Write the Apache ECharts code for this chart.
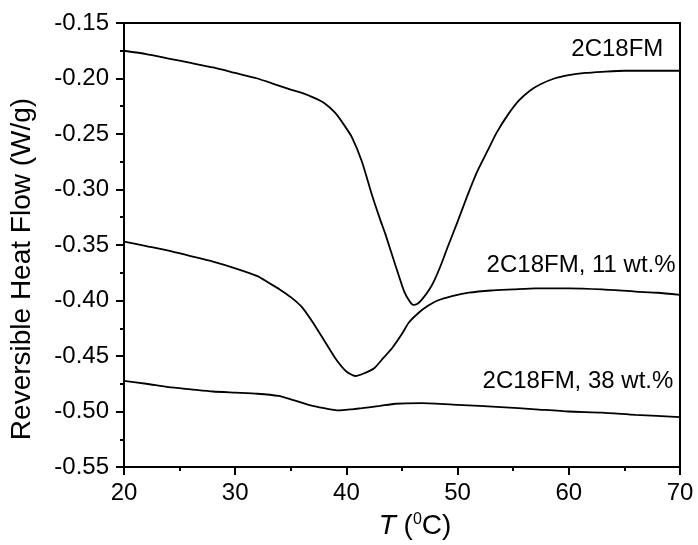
<!DOCTYPE html>
<html>
<head>
<meta charset="utf-8">
<script src="https://cdn.jsdelivr.net/npm/echarts@6/dist/echarts.min.js"></script>
<style>
  html, body { margin: 0; padding: 0; background: #fff; }
  #chart { width: 698px; height: 545px; }
</style>
</head>
<body>
<div id="chart"></div>
<script>
// Reversible heat flow curves (W/g) against temperature (°C)
const tempPure = [20, 22, 24, 26, 28, 30, 32, 33.5, 35, 36, 37, 38, 39, 39.8, 40.5, 41.4, 42.3, 43, 43.5, 44.4, 45.2, 45.7, 46.0, 46.4, 46.8, 47.4, 47.9, 48.5, 49.1, 50, 50.9, 51.8, 52.7, 53.5, 54.5, 55.5, 56.5, 57.5, 58.7, 60, 61.5, 63, 65, 67.5, 70];
const flowPure = [-0.175, -0.178, -0.182, -0.186, -0.190, -0.195, -0.200, -0.205, -0.210, -0.213, -0.217, -0.222, -0.231, -0.242, -0.253, -0.275, -0.305, -0.326, -0.340, -0.368, -0.392, -0.401, -0.404, -0.403, -0.399, -0.391, -0.382, -0.368, -0.352, -0.329, -0.305, -0.283, -0.265, -0.249, -0.233, -0.220, -0.211, -0.205, -0.200, -0.197, -0.195, -0.194, -0.193, -0.193, -0.193];

const temp11 = [20, 22, 24, 26, 28, 30, 32, 33, 34, 35, 36, 37, 38, 39, 40, 40.8, 41.5, 42.5, 43.3, 44.1, 45, 45.6, 46.5, 47.3, 48.2, 49.5, 51, 53, 55, 57, 60, 63, 66, 68, 70];
const flow11 = [-0.347, -0.351, -0.355, -0.360, -0.365, -0.371, -0.378, -0.384, -0.390, -0.397, -0.406, -0.420, -0.436, -0.452, -0.464, -0.468, -0.466, -0.461, -0.452, -0.443, -0.430, -0.420, -0.411, -0.405, -0.400, -0.396, -0.393, -0.391, -0.390, -0.389, -0.389, -0.390, -0.392, -0.393, -0.395];

const temp38 = [20, 22, 24, 26, 28, 30, 32, 33.9, 35, 36.6, 38, 39.3, 40.5, 41.4, 43, 44.4, 46.8, 50, 53.9, 57, 60, 63, 66, 70];
const flow38 = [-0.4725, -0.475, -0.478, -0.480, -0.482, -0.483, -0.484, -0.486, -0.489, -0.494, -0.497, -0.499, -0.498, -0.497, -0.495, -0.493, -0.4925, -0.494, -0.496, -0.498, -0.500, -0.501, -0.503, -0.505];

// Curve labels and the data point each label's right edge is anchored to
const curveNames = ['2C18FM', '2C18FM, 11 wt.%', '2C18FM, 38 wt.%'];
const labelAnchors = [[68.5, -0.174], [69.6, -0.368], [69.4, -0.4728]];

const FONT = 'Liberation Sans, Arial, sans-serif';
const TICK_SIZE = 24;
const TITLE_SIZE = 28;

function zip(xs, ys) { return xs.map((x, i) => [x, ys[i]]); }

function curve(name, xs, ys, anchor) {
  return {
    name: name,
    type: 'line',
    data: zip(xs, ys),
    showSymbol: false,
    smooth: 0.2,
    lineStyle: { color: '#000', width: 1.8 },
    silent: true,
    markPoint: {
      symbol: 'circle',
      symbolSize: 0,
      silent: true,
      data: [{ coord: anchor }],
      label: {
        show: true,
        formatter: name,
        position: 'left',
        distance: 0,
        color: '#000',
        fontFamily: FONT,
        fontSize: TICK_SIZE
      }
    }
  };
}

const chart = echarts.init(document.getElementById('chart'), null, { renderer: 'canvas' });
chart.setOption({
  animation: false,
  backgroundColor: '#fff',
  grid: { left: 122, right: 18, top: 23, bottom: 75, show: true, borderColor: '#000', borderWidth: 2, backgroundColor: 'transparent' },
  xAxis: {
    type: 'value',
    min: 20, max: 70, interval: 10,
    name: '{i|T} ({s|0}C)',
    nameLocation: 'middle',
    nameGap: 45,
    nameTextStyle: {
      color: '#000', fontFamily: FONT, fontSize: TITLE_SIZE,
      padding: [0, 0, 0, 26],
      rich: {
        i: { fontStyle: 'italic', fontFamily: FONT, fontSize: TITLE_SIZE, color: '#000' },
        s: { fontFamily: FONT, fontSize: 16, color: '#000', verticalAlign: 'top', padding: [0, 0, 11, 0] }
      }
    },
    axisLine: { show: true, lineStyle: { color: '#000', width: 2 } },
    axisTick: { show: true, length: 8, lineStyle: { color: '#000', width: 2 } },
    minorTick: { show: true, splitNumber: 2, length: 4, lineStyle: { color: '#000', width: 2 } },
    axisLabel: { color: '#000', fontFamily: FONT, fontSize: TICK_SIZE, margin: 14 },
    splitLine: { show: false }
  },
  yAxis: {
    type: 'value',
    min: -0.55, max: -0.15, interval: 0.05,
    name: 'Reversible Heat Flow (W/g)',
    nameLocation: 'middle',
    nameRotate: 90,
    nameGap: 88,
    nameTextStyle: { color: '#000', fontFamily: FONT, fontSize: TITLE_SIZE, padding: [0, 48, 0, 0] },
    axisLine: { show: true, lineStyle: { color: '#000', width: 2 } },
    axisTick: { show: true, length: 8, lineStyle: { color: '#000', width: 2 } },
    minorTick: { show: true, splitNumber: 2, length: 4, lineStyle: { color: '#000', width: 2 } },
    axisLabel: { color: '#000', fontFamily: FONT, fontSize: TICK_SIZE, margin: 15, formatter: v => v.toFixed(2) },
    splitLine: { show: false }
  },
  series: [
    curve(curveNames[0], tempPure, flowPure, labelAnchors[0]),
    curve(curveNames[1], temp11, flow11, labelAnchors[1]),
    curve(curveNames[2], temp38, flow38, labelAnchors[2])
  ]
});
</script>
</body>
</html>
